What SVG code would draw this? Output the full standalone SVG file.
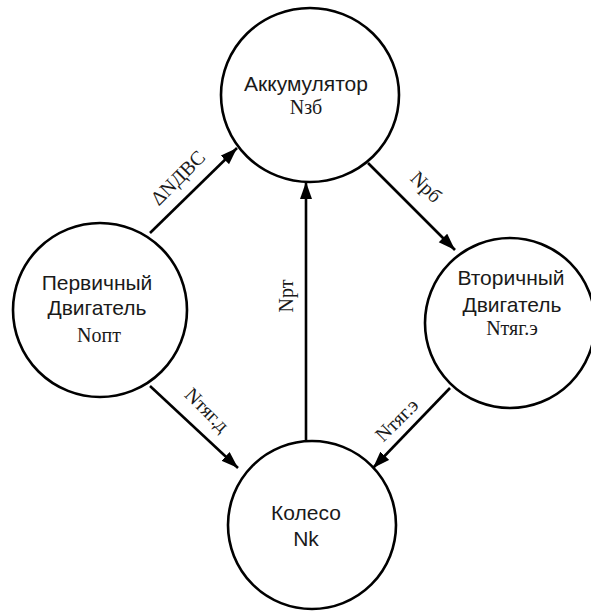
<svg xmlns="http://www.w3.org/2000/svg" width="591" height="611" viewBox="0 0 591 611">
  <defs>
    <marker id="arrow" markerUnits="userSpaceOnUse" markerWidth="20" markerHeight="14" refX="17" refY="6" orient="auto">
      <path d="M0,0 L17,6 L0,12 Z" fill="#000"/>
    </marker>
    <style>
      .node { fill: #fff; stroke: #000; stroke-width: 2.6; }
      .name { font-family: "Liberation Sans", Arial, sans-serif; font-size: 21px; fill: #1a1a1a; text-anchor: middle; }
      .sym { font-family: "Liberation Serif", "Times New Roman", serif; font-size: 20px; fill: #1a1a1a; text-anchor: middle; }
      .edge { stroke: #000; stroke-width: 2.6; fill: none; marker-end: url(#arrow); }
      .elabel { font-family: "Liberation Serif", "Times New Roman", serif; font-size: 20px; fill: #1a1a1a; text-anchor: middle; }
    </style>
  </defs>
  <rect width="591" height="611" fill="#fff"/>

  <!-- connectors -->
  <g id="connectors">
    <line class="edge" x1="150" y1="233" x2="237" y2="148"/>
    <line class="edge" x1="368" y1="163" x2="455" y2="250"/>
    <line class="edge" x1="306" y1="441" x2="306" y2="182"/>
    <line class="edge" x1="150" y1="386" x2="238" y2="468"/>
    <line class="edge" x1="450" y1="388" x2="373" y2="468"/>
    <text class="elabel" transform="translate(178,178) rotate(-45)" y="6.5">ΔNДВС</text>
    <text class="elabel" transform="translate(426,187) rotate(45)" y="6.5">Nрб</text>
    <text class="elabel" transform="translate(286,296) rotate(-90)" y="6.5">Nрт</text>
    <text class="elabel" transform="translate(207,410) rotate(45)" y="6.5">Nтяг.д</text>
    <text class="elabel" transform="translate(397,420) rotate(-45)" y="6.5">Nтяг.э</text>
  </g>

  <g id="accumulator">
    <ellipse class="node" cx="310" cy="95" rx="89" ry="87"/>
    <text class="name" x="306" y="91">Аккумулятор</text>
    <text class="sym" x="306" y="114">Nзб</text>
  </g>

  <g id="primary-engine">
    <circle class="node" cx="100" cy="310" r="87"/>
    <text class="name" x="97" y="290">Первичный</text>
    <text class="name" x="97" y="315">Двигатель</text>
    <text class="sym" x="99" y="342">Nопт</text>
  </g>

  <g id="secondary-engine">
    <circle class="node" cx="510" cy="323" r="85"/>
    <text class="name" x="511" y="285">Вторичный</text>
    <text class="name" x="512" y="312">Двигатель</text>
    <text class="sym" x="512" y="335">Nтяг.э</text>
  </g>

  <g id="wheel">
    <circle class="node" cx="312" cy="525" r="84"/>
    <text class="name" x="306" y="520">Колесо</text>
    <text class="name" x="306" y="546">Nk</text>
  </g>
</svg>
